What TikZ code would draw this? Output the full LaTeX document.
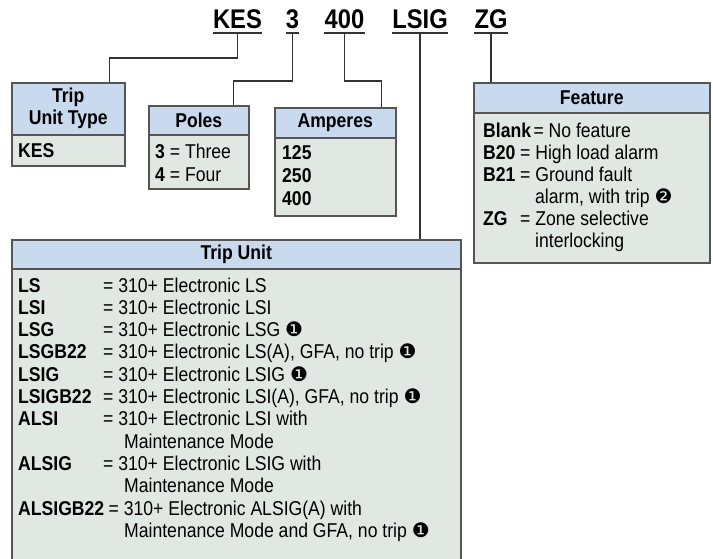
\documentclass[tikz,border=0pt]{standalone}
\usepackage{fontspec}
\setmainfont{Liberation Sans}[FakeStretch=0.88]
\newfontfamily\symbfont{DejaVu Sans}
\usetikzlibrary{positioning}
\definecolor{kopfblau}{RGB}{201,217,238}
\definecolor{feldgrau}{RGB}{225,232,227}
\definecolor{rahmen}{RGB}{85,85,85}
\definecolor{linie}{RGB}{51,51,51}
\newcommand{\kreiseins}{{\symbfont\symbol{"2776}}}
\newcommand{\kreiszwei}{{\symbfont\symbol{"2777}}}

\tikzset{
  kopf/.style={draw=rahmen, fill=kopfblau, line width=1.5pt, anchor=north west, inner sep=0pt,
    align=center, font=\bfseries\fontsize{20}{22}\selectfont},
  feld/.style={draw=rahmen, fill=feldgrau, line width=1.5pt, anchor=north west, inner sep=0pt},
  eintrag/.style={anchor=base west, inner sep=0pt, font=\fontsize{20}{22}\selectfont},
  schluessel/.style={anchor=base west, inner sep=0pt, font=\bfseries\fontsize{20}{22}\selectfont},
  titel/.style={anchor=base, inner sep=0pt, font=\bfseries\fontsize{27}{30}\selectfont},
  verbinder/.style={draw=linie, line width=1.5pt},
}

\begin{document}
\begin{tikzpicture}[x=1pt, y=-1pt] % Pixelkoordinaten, y nach unten

    \useasboundingbox (0,0) rectangle (713,558);

    % Katalognummer oben
    \node[titel] (kes)  at (237.5,28) {KES};
    \node[titel] (drei) at (292.5,28) {3};
    \node[titel] (vier) at (344.5,28) {400};
    \node[titel] (lsig) at (420,28)   {LSIG};
    \node[titel] (zg)   at (491,28)   {ZG};
    \foreach \n in {kes,drei,vier,lsig,zg} {
        \draw[verbinder, line width=2pt] ([yshift=-5pt]\n.base west) -- ([yshift=-5pt]\n.base east); % Unterstreichung
    }

    % Kaesten: erst Feld, dann Kopf
    \node[feld, minimum width=113pt, minimum height=31pt]  (tut-feld)  at (11,134)  {};
    \node[kopf, minimum width=113pt, minimum height=52pt]  (tut)       at (11,82)   {Trip\\Unit Type};
    \node[feld, minimum width=100pt, minimum height=54pt]  (pol-feld)  at (148,134) {};
    \node[kopf, minimum width=100pt, minimum height=29pt]  (pol)       at (148,105) {Poles};
    \node[feld, minimum width=121pt, minimum height=78pt]  (amp-feld)  at (274,137) {};
    \node[kopf, minimum width=121pt, minimum height=30pt]  (amp)       at (274,107) {Amperes};
    \node[feld, minimum width=236pt, minimum height=150pt] (feat-feld) at (473,112) {};
    \node[kopf, minimum width=236pt, minimum height=30pt]  (feat)      at (473,82)  {Feature};
    \node[feld, minimum width=449pt, minimum height=300pt] (tu-feld)   at (11,268)  {};
    \node[kopf, minimum width=449pt, minimum height=29pt]  (tu)        at (11,239)  {Trip Unit};

    % Verbindungslinien
    \draw[verbinder] ([yshift=-5pt]kes.base)  -- ++(0,25) -| ([xshift=-16pt]tut.north east);
    \draw[verbinder] ([yshift=-5pt]drei.base) -- ++(0,48) -| ([xshift=-16pt]pol.north east);
    \draw[verbinder] ([yshift=-5pt]vier.base) -- ++(0,48) -| ([xshift=-15pt]amp.north east);
    \draw[verbinder] ([yshift=-5pt]lsig.base) -- (lsig.base |- tu.north);
    \draw[verbinder] ([yshift=-5pt]zg.base)   -- (zg.base |- feat.north);

    % Trip Unit Type und Poles
    \node[schluessel] (tut-1) at (18,157) {KES};
    \node[eintrag] (pol-1) at (155,158) {\textbf{3} = Three};
    \node[eintrag] (pol-2) at (155,181) {\textbf{4} = Four};

    % Amperes
    \foreach \a [count=\i] in {125,250,400} {
        \node[schluessel] (amp-\i) at (282,136+23*\i) {\a};
    }

    % Feature
    \foreach \z/\k in {0/Blank, 1/B20, 2/B21, 4/ZG} {
        \node[schluessel] (feat-k\z) at (483,137+22*\z) {\k};
    }
    \node[eintrag, xshift=2pt] (feat-t0) at (feat-k0.base east) {= No feature};
    \foreach \z/\x/\t in {1/520/{= High load alarm}, 2/520/{= Ground fault},
                          3/535/{alarm, with trip \kreiszwei}, 4/520/{= Zone selective}, 5/535/{interlocking}} {
        \node[eintrag] (feat-t\z) at (\x,137+22*\z) {\t};
    }

    % Trip Unit
    \foreach \z/\k in {0/LS, 1/LSI, 2/LSG, 3/LSGB22, 4/LSIG, 5/LSIGB22, 6/ALSI, 8/ALSIG, 10/ALSIGB22} {
        \node[schluessel] (tu-k\z) at (18,292+22.3*\z) {\k};
    }
    \foreach \z/\x/\t in {0/103/{= 310+ Electronic LS},
                          1/103/{= 310+ Electronic LSI},
                          2/103/{= 310+ Electronic LSG \kreiseins},
                          3/103/{= 310+ Electronic LS(A), GFA, no trip \kreiseins},
                          4/103/{= 310+ Electronic LSIG \kreiseins},
                          5/103/{= 310+ Electronic LSI(A), GFA, no trip \kreiseins},
                          6/103/{= 310+ Electronic LSI with},
                          7/124/{Maintenance Mode},
                          8/103/{= 310+ Electronic LSIG with},
                          9/124/{Maintenance Mode},
                          11/124/{Maintenance Mode and GFA, no trip \kreiseins}} {
        \node[eintrag] (tu-t\z) at (\x,292+22.3*\z) {\t};
    }
    \node[eintrag, xshift=4pt] (tu-t10) at (tu-k10.base east) {= 310+ Electronic ALSIG(A) with};

\end{tikzpicture}
\end{document}
